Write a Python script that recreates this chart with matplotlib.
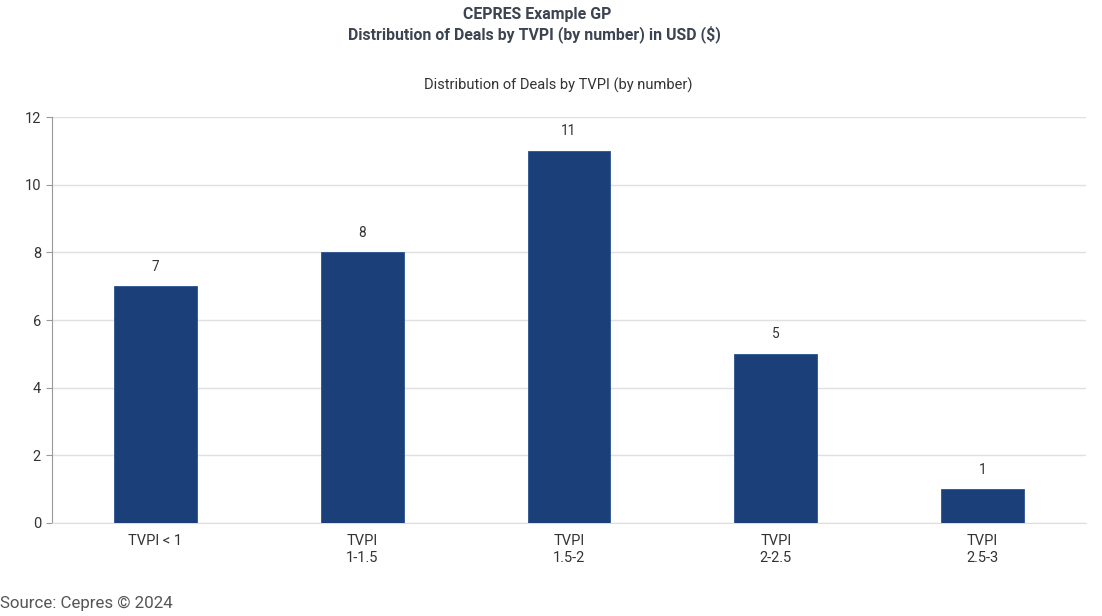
import matplotlib
matplotlib.use("Agg")
import matplotlib.pyplot as plt

categories = ["TVPI < 1", "TVPI\n1-1.5", "TVPI\n1.5-2", "TVPI\n2-2.5", "TVPI\n2.5-3"]
deal_counts = [7, 8, 11, 5, 1]
y_ticks = [0, 2, 4, 6, 8, 10, 12]

plt.rcParams['font.family'] = ['Roboto', 'DejaVu Sans']

fig = plt.figure(figsize=(11.02, 6.16), dpi=100)
ax = fig.add_axes([52/1102, 1-523/616, (1086-52)/1102, (523-117)/616])

x = list(range(len(categories)))
bars = ax.bar(x, deal_counts, width=0.4, color="#1b3f78", edgecolor="#2b528f", linewidth=0.6, zorder=3)
for xi, v in zip(x, deal_counts):
    ax.annotate(str(v), (xi, v), xytext=(0, 9), textcoords="offset points",
                ha="center", va="bottom", fontsize=9.8, color="#333333")

ax.set_xlim(-0.5, len(categories) - 0.5)
ax.set_ylim(0, 12)
ax.set_yticks(y_ticks)
ax.set_xticks(x)
ax.set_xticklabels(categories, fontsize=10.5, color="#333333", linespacing=1.25, va="top")
ax.tick_params(axis="x", length=0, pad=8)
ax.tick_params(axis="y", length=4, color="#999999", labelsize=10.5, labelcolor="#333333", pad=4)
ax.grid(axis="y", color="#e0e0e0", linewidth=1, zorder=0)
for s in ["top", "right"]:
    ax.spines[s].set_visible(False)
ax.spines["left"].set_color("#999999")
ax.spines["bottom"].set_color("#dddddd")

fig.text(537/1102, 1-15/616, "CEPRES Example GP", ha="center", va="center",
         fontsize=11.4, fontweight="bold", color="#3d4451")
fig.text(534/1102, 1-34/616, "Distribution of Deals by TVPI (by number) in USD ($)", ha="center", va="center",
         fontsize=11.4, fontweight="bold", color="#3d4451")
fig.text(558/1102, 1-85/616, "Distribution of Deals by TVPI (by number)", ha="center", va="center",
         fontsize=10.5, color="#333333")
fig.text(0, 1-603/616, "Source: Cepres \u00a9 2024", ha="left", va="center",
         fontsize=12.2, color="#555555")

fig.savefig("out.png", dpi=100, facecolor="white")
